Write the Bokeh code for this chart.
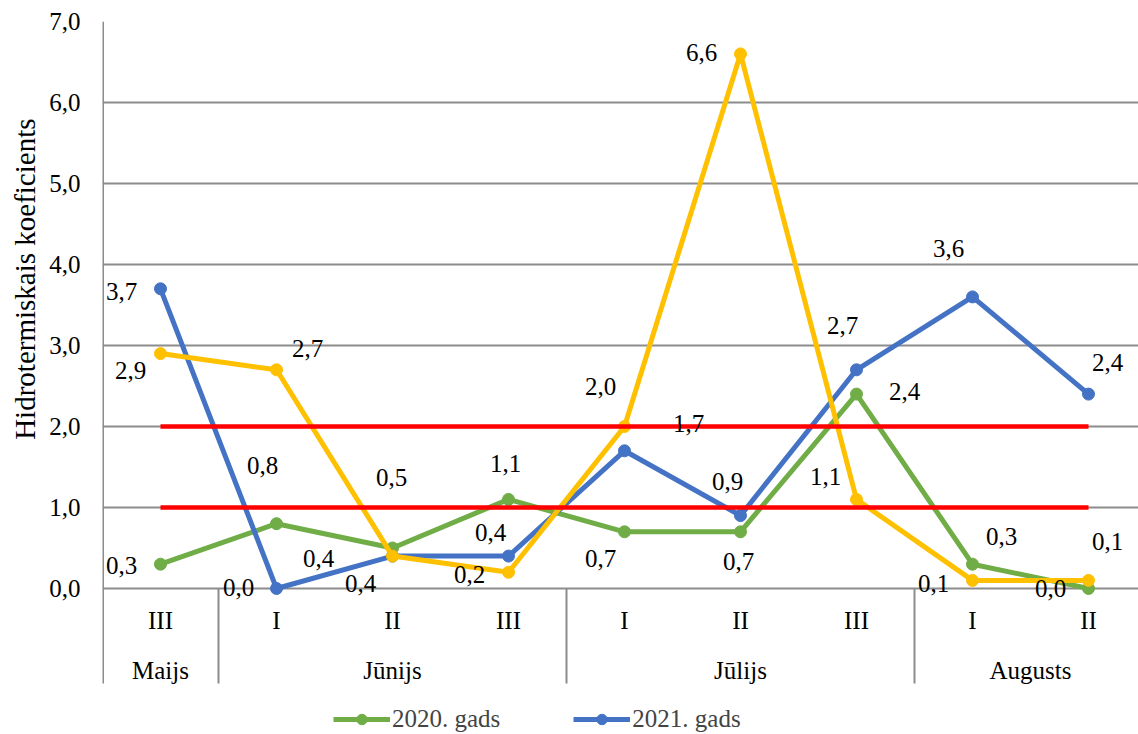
from bokeh.plotting import figure
from bokeh.models import Range1d, FixedTicker, Legend, LegendItem, Title
from bokeh.core.properties import value
from bokeh.embed import file_html
from bokeh.resources import INLINE

# ---- data -------------------------------------------------------------
decades = ["III", "I", "II", "III", "I", "II", "III", "I", "II"]
months = ["Maijs", "Jūnijs", "Jūlijs", "Augusts"]
month_spans = [1, 3, 3, 2]

htc_2020 = [0.3, 0.8, 0.5, 1.1, 0.7, 0.7, 2.4, 0.3, 0.0]
htc_2021 = [3.7, 0.0, 0.4, 0.4, 1.7, 0.9, 2.7, 3.6, 2.4]
htc_2022 = [2.9, 2.7, 0.4, 0.2, 2.0, 6.6, 1.1, 0.1, 0.1]

thresholds = [1.0, 2.0]

y_ticks = [0, 1, 2, 3, 4, 5, 6, 7]
y_tick_labels = ["0,0", "1,0", "2,0", "3,0", "4,0", "5,0", "6,0", "7,0"]

# ---- label placement (pixel offsets of each value label) --------------
off_2020 = [(-39, 1), (-14, -58), (-1, -71), (-3, -36), (-24, 27),
            (-2, 30), (48, -3), (29, -28), (-38, 0)]
off_2021 = [(-39, 3), (-38, -1), (-74, 2), (-18, -24), (64, -27),
            (-13, -34), (-14, -44), (-24, -48), (19, -32)]
off_2022 = [(-30, 17), (31, -21), (-32, 27), (-39, 2), (-24, -40),
            (-39, -1), (-31, -23), (-39, 3), (19, -39)]

# ---- geometry ---------------------------------------------------------
W, H = 1138, 734
LEFT, TOP = 102, 21
ZERO_PX = 588          # canvas row of the value 0
PX_PER_UNIT = 81.0     # vertical pixels per 1.0
PX_PER_CAT = 116.0     # horizontal pixels per category
SEP_BOTTOM_PX = 683    # lower end of the category separators

FONT = "Liberation Serif"
FS = "25px"

GREEN = "#70AD47"
BLUE = "#4472C4"
YELLOW = "#FFC000"
RED = "#FF0000"
GREY = "#8c8c8c"

n = len(decades)
xs = list(range(n))
y_top = float(y_ticks[-1])
y_bottom = y_top - (H - TOP) / PX_PER_UNIT
x_left = -0.5
x_right = x_left + (W - LEFT) / PX_PER_CAT

p = figure(width=W, height=H,
           x_range=Range1d(x_left, x_right), y_range=Range1d(y_bottom, y_top),
           x_axis_location=None,
           min_border_left=LEFT, min_border_top=TOP,
           min_border_right=0, min_border_bottom=0,
           output_backend="svg", toolbar_location=None)
p.outline_line_color = None
p.background_fill_color = "white"
p.border_fill_color = "white"

# y axis: labels only, grid at whole numbers
ax = p.yaxis[0]
ax.ticker = FixedTicker(ticks=y_ticks)
ax.major_label_overrides = {t: s for t, s in zip(y_ticks, y_tick_labels)}
ax.axis_line_color = None
ax.major_tick_line_color = None
ax.minor_tick_line_color = None
ax.major_tick_out = 0
ax.major_label_standoff = 22
ax.major_label_text_font = FONT
ax.major_label_text_font_size = FS
ax.major_label_text_color = "black"

# vertical axis title, anchored near the top of the value area
p.add_layout(Title(text="Hidrotermiskais koeficients", align="right",
                   offset=97, standoff=12,
                   text_font=FONT, text_font_size="29px",
                   text_font_style="normal", text_color="black"), "left")

p.xgrid.visible = False
p.ygrid.ticker = FixedTicker(ticks=y_ticks)
p.ygrid.grid_line_color = GREY
p.ygrid.grid_line_width = 2

# category axis: left border and month separators
sep_low = -(SEP_BOTTOM_PX - ZERO_PX) / PX_PER_UNIT
bounds = [x_left]
for s in month_spans:
    bounds.append(bounds[-1] + s)
p.segment(x0=[x_left], y0=[y_top], x1=[x_left], y1=[sep_low],
          line_color=GREY, line_width=3)
p.segment(x0=bounds[1:-1], y0=[0] * (len(bounds) - 2),
          x1=bounds[1:-1], y1=[sep_low] * (len(bounds) - 2),
          line_color=GREY, line_width=2)

p.text(x=xs, y=[0] * n, text=decades, y_offset=[32] * n,
       text_align="center", text_baseline="middle",
       text_font=value(FONT), text_font_size=FS, text_color="black")
month_centers = [b + s / 2 for b, s in zip(bounds[:-1], month_spans)]
p.text(x=month_centers, y=[0] * len(months), text=months,
       y_offset=[82] * len(months),
       text_align="center", text_baseline="middle",
       text_font=value(FONT), text_font_size=FS, text_color="black")

# series
renderers = {}
for name, vals, col in [("2020", htc_2020, GREEN), ("2021", htc_2021, BLUE),
                        ("2022", htc_2022, YELLOW)]:
    ln = p.line(xs, vals, line_color=col, line_width=5, line_join="round")
    pt = p.scatter(xs, vals, marker="circle", size=12,
                   fill_color=col, line_color=col)
    renderers[name] = (ln, pt)

# threshold lines
for t in thresholds:
    p.line([xs[0], xs[-1]], [t, t], line_color=RED, line_width=4.5)

# value labels
def fmt(v):
    return f"{v:.1f}".replace(".", ",")

for vals, offs in [(htc_2020, off_2020), (htc_2021, off_2021),
                   (htc_2022, off_2022)]:
    p.text(x=xs, y=vals, text=[fmt(v) for v in vals],
           x_offset=[o[0] for o in offs], y_offset=[o[1] for o in offs],
           text_align="center", text_baseline="middle",
           text_font=value(FONT), text_font_size=FS, text_color="black")

legend = Legend(items=[
    LegendItem(label="2020. gads", renderers=list(renderers["2020"])),
    LegendItem(label="2021. gads", renderers=list(renderers["2021"])),
], orientation="horizontal", location=(231, 1),
    padding=0, margin=0, spacing=73,
    glyph_width=57, glyph_height=26, label_height=26, label_standoff=2,
    label_text_font=FONT, label_text_font_size=FS,
    border_line_color=None, background_fill_alpha=0)
p.add_layout(legend)

open("out.html", "w").write(file_html(p, INLINE))
